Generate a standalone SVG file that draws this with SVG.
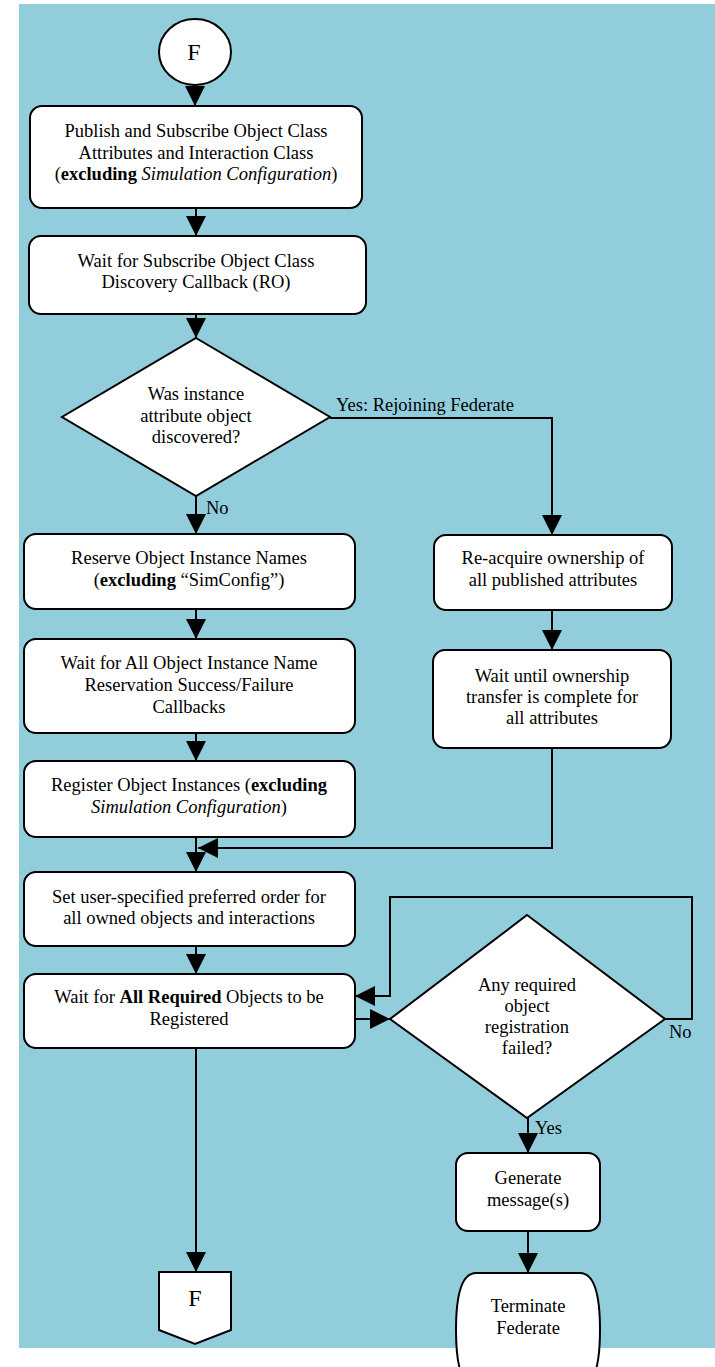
<svg xmlns="http://www.w3.org/2000/svg" width="715" height="1367" viewBox="0 0 715 1367">
<style>
.bg{fill:#92CDDC}
.n{fill:#fff;stroke:#000;stroke-width:2}
.c{fill:none;stroke:#000;stroke-width:2}
.t{font-family:"Liberation Serif","Times New Roman",serif;font-size:18.5px;fill:#000;text-anchor:middle}
.l{font-family:"Liberation Serif","Times New Roman",serif;font-size:18.5px;fill:#000}
.big{font-family:"Liberation Serif","Times New Roman",serif;font-size:24px;fill:#000;text-anchor:middle}
.b{font-weight:bold}
.i{font-style:italic}
</style>
<defs>
<marker id="ah" markerUnits="userSpaceOnUse" markerWidth="20" markerHeight="20" refX="20" refY="10" orient="auto">
<path d="M0,0 L20,10 L0,20 z" fill="#000"/>
</marker>
</defs>
<rect class="bg" x="19" y="4" width="696" height="1344"/>

<g id="connectors">
<path class="c" d="M195,86 V106" marker-end="url(#ah)"/>
<path class="c" d="M196,208 V236" marker-end="url(#ah)"/>
<path class="c" d="M196,314 V338" marker-end="url(#ah)"/>
<path class="c" d="M196,496 V534" marker-end="url(#ah)"/>
<path class="c" d="M330,418 H552 V535" marker-end="url(#ah)"/>
<path class="c" d="M552,610 V650" marker-end="url(#ah)"/>
<path class="c" d="M196,609 V639" marker-end="url(#ah)"/>
<path class="c" d="M196,733 V761" marker-end="url(#ah)"/>
<path class="c" d="M196,837 V872" marker-end="url(#ah)"/>
<path class="c" d="M552,748 V848 H198" marker-end="url(#ah)"/>
<path class="c" d="M196,946 V974" marker-end="url(#ah)"/>
<path class="c" d="M355,1019 H390" marker-end="url(#ah)"/>
<path class="c" d="M665,1019 H692 V897 H390 V996 H355" marker-end="url(#ah)"/>
<path class="c" d="M196,1048 V1272" marker-end="url(#ah)"/>
<path class="c" d="M528,1118 V1153" marker-end="url(#ah)"/>
<path class="c" d="M528,1231 V1273" marker-end="url(#ah)"/>
<text class="l" x="336" y="411">Yes: Rejoining Federate</text>
<text class="l" x="206" y="514">No</text>
<text class="l" x="669" y="1038">No</text>
<text class="l" x="535" y="1134">Yes</text>
</g>

<g id="start">
<ellipse class="n" cx="195" cy="52" rx="36" ry="33"/>
<text class="big" x="194" y="60">F</text>
</g>

<g id="publish">
<rect class="n" x="30" y="106" width="332" height="102" rx="12"/>
<text class="t" x="196" y="137">Publish and Subscribe Object Class</text>
<text class="t" x="196" y="158.5">Attributes and Interaction Class</text>
<text class="t" x="196" y="180">(<tspan class="b">excluding</tspan> <tspan class="i">Simulation Configuration</tspan>)</text>
</g>

<g id="waitDiscovery">
<rect class="n" x="29" y="236" width="337" height="78" rx="12"/>
<text class="t" x="196" y="266.5">Wait for Subscribe Object Class</text>
<text class="t" x="196" y="288">Discovery Callback (RO)</text>
</g>

<g id="decision1">
<polygon class="n" points="196,338 330,417 196,496 62,417"/>
<text class="t" x="196" y="400">Was instance</text>
<text class="t" x="196" y="421.5">attribute object</text>
<text class="t" x="196" y="443">discovered?</text>
</g>

<g id="reserve">
<rect class="n" x="24" y="534" width="331" height="75" rx="12"/>
<text class="t" x="189" y="564">Reserve Object Instance Names</text>
<text class="t" x="189" y="585.5">(<tspan class="b">excluding</tspan> “SimConfig”)</text>
</g>

<g id="reacquire">
<rect class="n" x="434" y="535" width="238" height="75" rx="12"/>
<text class="t" x="553" y="564">Re-acquire ownership of</text>
<text class="t" x="553" y="585.5">all published attributes</text>
</g>

<g id="waitReservation">
<rect class="n" x="24" y="639" width="331" height="94" rx="12"/>
<text class="t" x="189" y="669">Wait for All Object Instance Name</text>
<text class="t" x="189" y="690.5">Reservation Success/Failure</text>
<text class="t" x="189" y="712.5">Callbacks</text>
</g>

<g id="waitOwnership">
<rect class="n" x="433" y="650" width="238" height="98" rx="12"/>
<text class="t" x="552" y="681.5">Wait until ownership</text>
<text class="t" x="552" y="703">transfer is complete for</text>
<text class="t" x="552" y="724">all attributes</text>
</g>

<g id="register">
<rect class="n" x="24" y="761" width="331" height="76" rx="12"/>
<text class="t" x="189" y="790.5">Register Object Instances (<tspan class="b">excluding</tspan></text>
<text class="t" x="189" y="812.5"><tspan class="i">Simulation Configuration</tspan>)</text>
</g>

<g id="setOrder">
<rect class="n" x="24" y="872" width="331" height="74" rx="12"/>
<text class="t" x="189" y="902.5">Set user-specified preferred order for</text>
<text class="t" x="189" y="923.5">all owned objects and interactions</text>
</g>

<g id="waitRequired">
<rect class="n" x="24" y="974" width="331" height="74" rx="12"/>
<text class="t" x="189" y="1002.5">Wait for <tspan class="b">All Required</tspan> Objects to be</text>
<text class="t" x="189" y="1025">Registered</text>
</g>

<g id="decision2">
<polygon class="n" points="527,915 665,1019 527,1118 390,1019"/>
<text class="t" x="527" y="990.5">Any required</text>
<text class="t" x="527" y="1011.5">object</text>
<text class="t" x="527" y="1033">registration</text>
<text class="t" x="527" y="1054">failed?</text>
</g>

<g id="generate">
<rect class="n" x="456" y="1153" width="144" height="78" rx="12"/>
<text class="t" x="528" y="1184">Generate</text>
<text class="t" x="528" y="1205.5">message(s)</text>
</g>

<g id="terminate">
<path class="n" d="M476,1273 H580 C596,1273 600,1300 600,1330 C600,1360 596,1387 580,1387 H476 C460,1387 456,1360 456,1330 C456,1300 460,1273 476,1273 Z"/>
<text class="t" x="528" y="1312">Terminate</text>
<text class="t" x="528" y="1334">Federate</text>
</g>

<g id="end">
<polygon class="n" points="159,1272 231,1272 231,1330 195,1344 159,1330"/>
<text class="big" x="195" y="1306">F</text>
</g>
</svg>
